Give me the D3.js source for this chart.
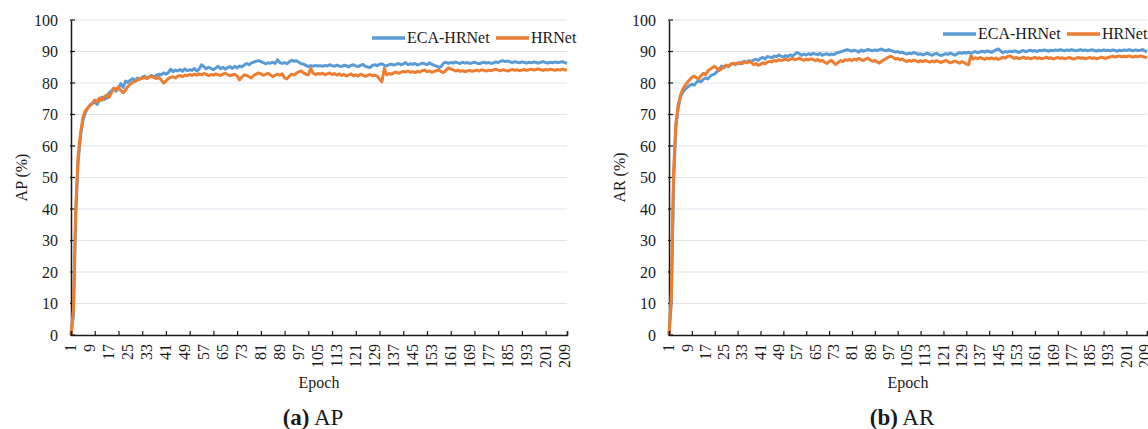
<!DOCTYPE html>
<html>
<head>
<meta charset="utf-8">
<script src="https://cdn.jsdelivr.net/npm/d3@7"></script>
<style>
  body { margin: 0; background: #fff; }
</style>
</head>
<body>
<svg id="chart" width="1148" height="429"></svg>
<script>
// Data (epochs 1..210)
var seriesNames = ["ECA-HRNet", "HRNet"];
var yTicks = [0, 10, 20, 30, 40, 50, 60, 70, 80, 90, 100];
var epochLabels = [1, 9, 17, 25, 33, 41, 49, 57, 65, 73, 81, 89, 97, 105, 113, 121, 129, 137, 145, 153, 161, 169, 177, 185, 193, 201, 209];

var apEca = [
  0, 6, 38, 55, 63, 68, 70.5, 72, 73, 73.5,
  74, 73.2, 74.5, 75.5, 74.8, 75.2, 76.8, 77.5, 78.2, 77.4,
  78.5, 79.8, 78.6, 80.6, 80.2, 80.9, 81.4, 80.8, 81.6, 81.2,
  81.8, 82.2, 81.6, 82, 82.4, 81.9, 82.5, 82.8, 82.6, 83.2,
  82.8, 83.3, 84.4, 83.6, 84.1, 83.8, 84.3, 83.7, 84.5, 83.9,
  84.2, 84, 84.6, 83.8, 84.4, 85.8, 85.2, 84.5, 85, 84.6,
  84.2, 84.8, 85.3, 84.5, 85, 84.4, 84.9, 85.2, 84.6, 85.3,
  84.8, 85.4, 85.1, 85.7, 86.2, 85.8, 86.4, 86.6, 86.9, 87.1,
  86.8, 86.5, 86.1, 86.4, 86.3, 86.6, 86.2, 87.4, 86.5, 86.2,
  86.5, 86.1, 86.8, 87.2, 86.9, 87.1, 86.6, 86.1, 86, 85.6,
  85.2, 85.5, 85.3, 85.6, 85.4, 85.5, 85.3, 85.6, 85.4, 85.8,
  85.5, 85.3, 85.7, 85.4, 85.2, 85.6, 85.5, 85.1, 85.6, 85.8,
  85.4, 85.2, 85.6, 85.9, 85.3, 85.1, 84.9, 85.6, 85.8, 85.5,
  85.9, 86.1, 85.6, 85.4, 85.8, 86, 85.7, 85.9, 86.2, 85.8,
  86, 86.5, 85.8, 86.1, 85.9, 86.2, 85.7, 86, 86.3, 86.1,
  85.8, 86.4, 86, 85.6, 85.4, 84.9, 85.3, 86.3, 86.6, 86.2,
  86.5, 86.3, 86.7, 86.4, 86.2, 86.6, 86.3, 86.5, 86.2, 86.4,
  86.6, 86.3, 86.1, 86.4, 86.6, 86.3, 86.5, 86.2, 86.4, 86.7,
  86.5, 86.9, 87.1, 86.8, 87, 86.7, 86.5, 86.8, 86.6, 86.4,
  86.7, 86.5, 86.3, 86.6, 86.4, 86.7, 86.5, 86.3, 86.6, 86.8,
  86.5, 86.3, 86.6, 86.4, 86.7, 86.5, 86.6, 86.8, 86.5, 86.2
];

var apHr = [
  0, 8, 40, 57, 64, 69, 71.2, 72, 72.8, 73.6,
  74.6, 74, 75.2, 74.5, 75.6, 76.2, 75.4, 76.8, 78.4, 77.9,
  78.7, 77.6, 76.9, 77.8, 78.9, 79.6, 80.2, 80.5, 80.9, 81.3,
  81.5, 81.8, 81.4, 81.9, 82.2, 81.7, 81.4, 81.8, 81, 80,
  80.6, 81.4, 81.8, 82, 81.6, 82.2, 82.4, 82, 82.5, 82.3,
  82.7, 82.4, 82.8, 82.5, 82.9, 82.6, 83, 82.8, 82.3, 82.7,
  82.5, 82.9, 82.6, 82.4, 82.8, 83.1, 82.7, 82.3, 82.6, 82.8,
  82.2, 81, 81.8, 82.6, 82.4, 82, 81.6, 82.4, 82.8, 83.2,
  82.9, 82.5, 82.7, 83.1, 82.6, 82, 82.4, 82.8, 82.5, 82.9,
  81.6, 81.3, 82.2, 82.8, 82.5, 83.1, 83.6, 83.8, 83.2, 82.8,
  82.6, 84.6, 83.2, 82.7, 83, 82.8, 83.1, 82.6, 82.9, 83.2,
  82.7, 83, 82.5, 82.9, 82.4, 82.7, 82.2, 82.6, 82.9, 82.3,
  82.6, 82.2, 82.8, 82.5, 82.1, 82.4, 82.7, 82.3, 82.5, 82.2,
  81.2, 80.4, 84.6, 82.6, 83, 82.8, 83.2, 83.5, 83.1, 83.4,
  83.7, 83.5, 83.8, 83.4, 83.6, 83.3, 83.7, 83.5, 83.9, 84.1,
  83.6, 83.8, 83.4, 83.7, 83.9, 84.1, 83.6, 83.3, 84, 84.8,
  84.5, 84.2, 83.8, 84.1, 83.7, 83.9, 83.6, 83.8, 84, 83.7,
  83.9, 84.1, 83.8, 84.2, 84, 83.8, 84.1, 83.9, 84.2, 84.4,
  84.1, 83.9, 84.2, 84, 83.8, 84.1, 84.3, 84, 84.2, 83.9,
  84.1, 84.3, 84, 84.2, 84.4, 84.1, 84.3, 84.5, 84.2, 84,
  84.3, 84.1, 84.4, 84.2, 84, 84.3, 84.1, 84.4, 84.2, 84
];

var arEca = [
  0, 10, 48, 66, 72, 75.5, 77, 78, 78.6, 79.2,
  79.6, 79.3, 80.2, 80.8, 80.4, 81.2, 81.6, 81.3, 82.2, 82.6,
  82.9, 83.6, 84.4, 85.4, 84.8, 85.6, 85.2, 85.9, 86.2, 85.8,
  86.4, 86.1, 86.6, 86.9, 86.5, 87.1, 86.8, 87.3, 87.5, 87.2,
  87.8, 88.1, 87.6, 88.4, 88.2, 88, 88.6, 88.3, 88.9, 88.5,
  88.2, 88.7, 88.4, 88.9, 88.6, 89.1, 89.7, 89.3, 88.8, 89.2,
  88.9, 89.3, 89, 89.4, 89.2, 89, 89.4, 88.8, 89.1, 89.3,
  88.9, 89.2, 89, 89.4, 89.7, 89.9, 90.1, 90.4, 90.6, 90.3,
  90.1, 90.4, 90.2, 89.8, 90.5, 90.1, 90.3, 90.7, 90.4, 90.2,
  90.5, 90.3, 90.6, 90.8, 90.4, 90.2, 90.6, 90.3, 90.1, 89.8,
  90, 89.6, 89.8, 89.4, 89.2, 89.5, 89.3, 89.7, 89.4, 89.1,
  89.3, 88.9, 89.2, 89.5, 89.1, 88.8, 89.2, 89.4, 89, 88.7,
  89, 89.3, 89.1, 89.5, 89.2, 88.8, 89.3, 89.6, 89.4, 89.7,
  89.5, 89.8, 89.4, 89.7, 90, 89.6, 89.9, 90.1, 89.8, 90.2,
  90, 89.7, 90.1, 90.5, 90.8, 90.2, 89.6, 90, 89.8, 90.1,
  89.9, 90.2, 90, 89.7, 90.1, 90.3, 89.9, 90.2, 90.4, 90.1,
  90.3, 90, 90.4, 90.2, 90.5, 90.3, 90.1, 90.4, 90.2, 90.5,
  90.3, 90.6, 90.4, 90.2, 90.5, 90.3, 90.6, 90.4, 90.2, 90.4,
  90.6, 90.3, 90.5, 90.2, 90.4, 90.6, 90.3, 90.1, 90.4, 90.2,
  90.5, 90.3, 90.4, 90.2, 90.5, 90.3, 90.1, 90.4, 90.2, 90.5,
  90.3, 90.6, 90.4, 90.2, 90.5, 90.3, 90.4, 90.6, 90.2, 89.9
];

var arHr = [
  0, 12, 52, 67, 73, 76, 78, 79.2, 80.2, 81,
  81.8, 82.2, 81.6, 81.4, 82.3, 83.1, 82.6, 83.8, 84.4, 84.9,
  85.3, 84.6, 84, 84.5, 85.2, 85.7, 85.3, 86, 86.3, 85.9,
  86.2, 86.5, 86.1, 86.7, 86.4, 86.8, 86.5, 85.8, 86.2, 85.6,
  85.9, 86.4, 86.1, 86.6, 86.9, 86.7, 87.2, 86.9, 87.4, 87.1,
  87.3, 87.6, 87.2, 87.5, 87.8, 87.4, 87.6, 87.9, 87.5, 87.2,
  87.6, 87.3, 87.7, 87.4, 87.1, 87.5, 86.9, 87.2, 86.6, 86.2,
  86.8, 87.2, 86.4, 85.9, 86.6, 87.1, 86.8, 87.4, 87.2, 87.5,
  87.1, 87.6, 87.3, 87.8, 87.4, 87.1, 87.6, 87.9, 87.3, 86.9,
  87.2, 86.7, 86.3, 86.9, 87.4, 87.8, 88.2, 88.5, 88.1, 87.6,
  87.8, 87.4, 87.6, 87.1, 86.8, 87.2, 86.9, 87.3, 87, 86.7,
  87.1, 86.8, 87.2, 86.9, 86.6, 87, 86.7, 87.1, 86.8, 86.5,
  86.9, 87.2, 86.8, 86.4, 86.7, 87, 86.6, 86.3, 86.8, 86.5,
  86, 85.8, 88.7, 87.6, 88, 87.7, 88.1, 87.8, 87.5, 87.9,
  87.7, 88, 87.6, 87.9, 87.5, 87.8, 88.2, 87.9, 88.4, 88.6,
  88.2, 87.8, 88.1, 87.7, 87.9, 88.2, 87.8, 88, 87.7, 87.9,
  88.1, 87.8, 88, 87.7, 87.9, 88.2, 87.8, 88, 87.6, 87.9,
  88.1, 87.8, 88, 87.7, 87.9, 88.1, 87.8, 87.6, 87.9, 88.1,
  87.8, 88, 87.7, 87.9, 88.1, 87.8, 88, 87.7, 87.9, 88.2,
  88, 87.8, 88.1, 88.3, 88.5, 88.2, 88.4, 88.6, 88.3, 88.5,
  88.3, 88.6, 88.4, 88.2, 88.5, 88.3, 88.6, 88.4, 88.2, 88.1
];

var colors = ["#5b9bd5", "#ed7d31"];
var serif = "Liberation Serif";
var ink = "#1a1a1a";

var svg = d3.select("#chart");

// Draw one panel (Excel-like line chart)
var drawPanel = function (cfg) {
  var n = cfg.series[0].length;
  var epochs = d3.range(1, n + 1);

  var x = d3.scaleLinear().domain([1, n]).range([cfg.left, cfg.right]);
  var y = d3.scaleLinear().domain([0, 100]).range([cfg.bottom, cfg.top]);

  var g = svg.append("g");

  // Gridlines
  g.selectAll("line.grid").data(yTicks.filter(function (d) { return d > 0; }))
    .enter().append("line").attr("class", "grid")
    .attr("x1", cfg.left).attr("x2", cfg.right)
    .attr("y1", function (d) { return y(d); }).attr("y2", function (d) { return y(d); })
    .attr("stroke", "#dde3eb").attr("stroke-width", 1.2);

  // Y axis
  var yAxis = g.append("g").attr("transform", "translate(" + cfg.left + ",0)")
    .call(d3.axisLeft(y).tickValues(yTicks).tickSize(0).tickPadding(13));
  yAxis.attr("font-family", serif).attr("font-size", 16);
  yAxis.select(".domain").attr("stroke", ink).attr("stroke-width", 1.5);
  yAxis.selectAll("text").attr("fill", ink);
  g.selectAll("line.ytick").data(yTicks).enter().append("line").attr("class", "ytick")
    .attr("x1", cfg.left - 1).attr("x2", cfg.left + 4)
    .attr("y1", function (d) { return y(d); }).attr("y2", function (d) { return y(d); })
    .attr("stroke", ink).attr("stroke-width", 1.2);

  // Lines
  var line = d3.line()
    .x(function (d, i) { return x(epochs[i]); })
    .y(function (d) { return y(d); });

  cfg.series.forEach(function (s, k) {
    g.append("path").datum(s)
      .attr("d", line)
      .attr("fill", "none")
      .attr("stroke", colors[k])
      .attr("stroke-width", 3)
      .attr("stroke-linejoin", "round");
  });

  // X axis: tick marks every 10 categories, labels every 8
  var markVals = d3.range(1, n + 1, 10).concat([n]);
  var xAxis = g.append("g").attr("transform", "translate(0," + cfg.bottom + ")")
    .call(d3.axisBottom(x).tickValues(markVals).tickSize(-4).tickFormat(""));
  xAxis.select(".domain").attr("stroke", ink).attr("stroke-width", 1.5);
  xAxis.selectAll(".tick line").attr("stroke", ink).attr("stroke-width", 1.2);

  g.selectAll("text.xlab").data(epochLabels).enter().append("text").attr("class", "xlab")
    .attr("transform", function (d) { return "translate(" + x(d) + "," + (cfg.bottom + 9) + ") rotate(-90)"; })
    .attr("text-anchor", "end")
    .attr("dy", "0.33em")
    .attr("font-family", serif).attr("font-size", 16).attr("fill", ink)
    .text(function (d) { return d; });

  // Axis titles
  g.append("text")
    .attr("transform", "translate(" + cfg.yTitleX + "," + ((cfg.top + cfg.bottom) / 2) + ") rotate(-90)")
    .attr("text-anchor", "middle")
    .attr("font-family", serif).attr("font-size", 16).attr("fill", ink)
    .text(cfg.yTitle);

  g.append("text")
    .attr("x", (cfg.left + cfg.right) / 2).attr("y", 388)
    .attr("text-anchor", "middle")
    .attr("font-family", serif).attr("font-size", 16).attr("fill", ink)
    .text("Epoch");

  // Legend
  var lg = g.append("g").attr("transform", "translate(" + cfg.legendX + "," + cfg.legendY + ")");
  var offs = [0, 124];
  seriesNames.forEach(function (name, k) {
    lg.append("line").attr("x1", offs[k]).attr("x2", offs[k] + 33)
      .attr("stroke", colors[k]).attr("stroke-width", 3.5);
    lg.append("text").attr("x", offs[k] + 35).attr("dy", "0.33em")
      .attr("font-family", serif).attr("font-size", 16).attr("fill", ink)
      .text(name);
  });

  // Caption
  var cap = g.append("text")
    .attr("x", cfg.capX).attr("y", 425)
    .attr("text-anchor", "middle")
    .attr("font-family", serif).attr("font-size", 23).attr("fill", ink);
  cap.append("tspan").attr("font-weight", "bold").text(cfg.capTag);
  cap.append("tspan").text(" " + cfg.capText);
};

drawPanel({
  series: [apEca, apHr], left: 71, right: 567, top: 20, bottom: 335,
  yTitle: "AP (%)", yTitleX: 27, legendX: 372, legendY: 38,
  capX: 313, capTag: "(a)", capText: "AP"
});

drawPanel({
  series: [arEca, arHr], left: 669, right: 1147, top: 20, bottom: 335,
  yTitle: "AR (%)", yTitleX: 625, legendX: 943, legendY: 34,
  capX: 902, capTag: "(b)", capText: "AR"
});
</script>
</body>
</html>
